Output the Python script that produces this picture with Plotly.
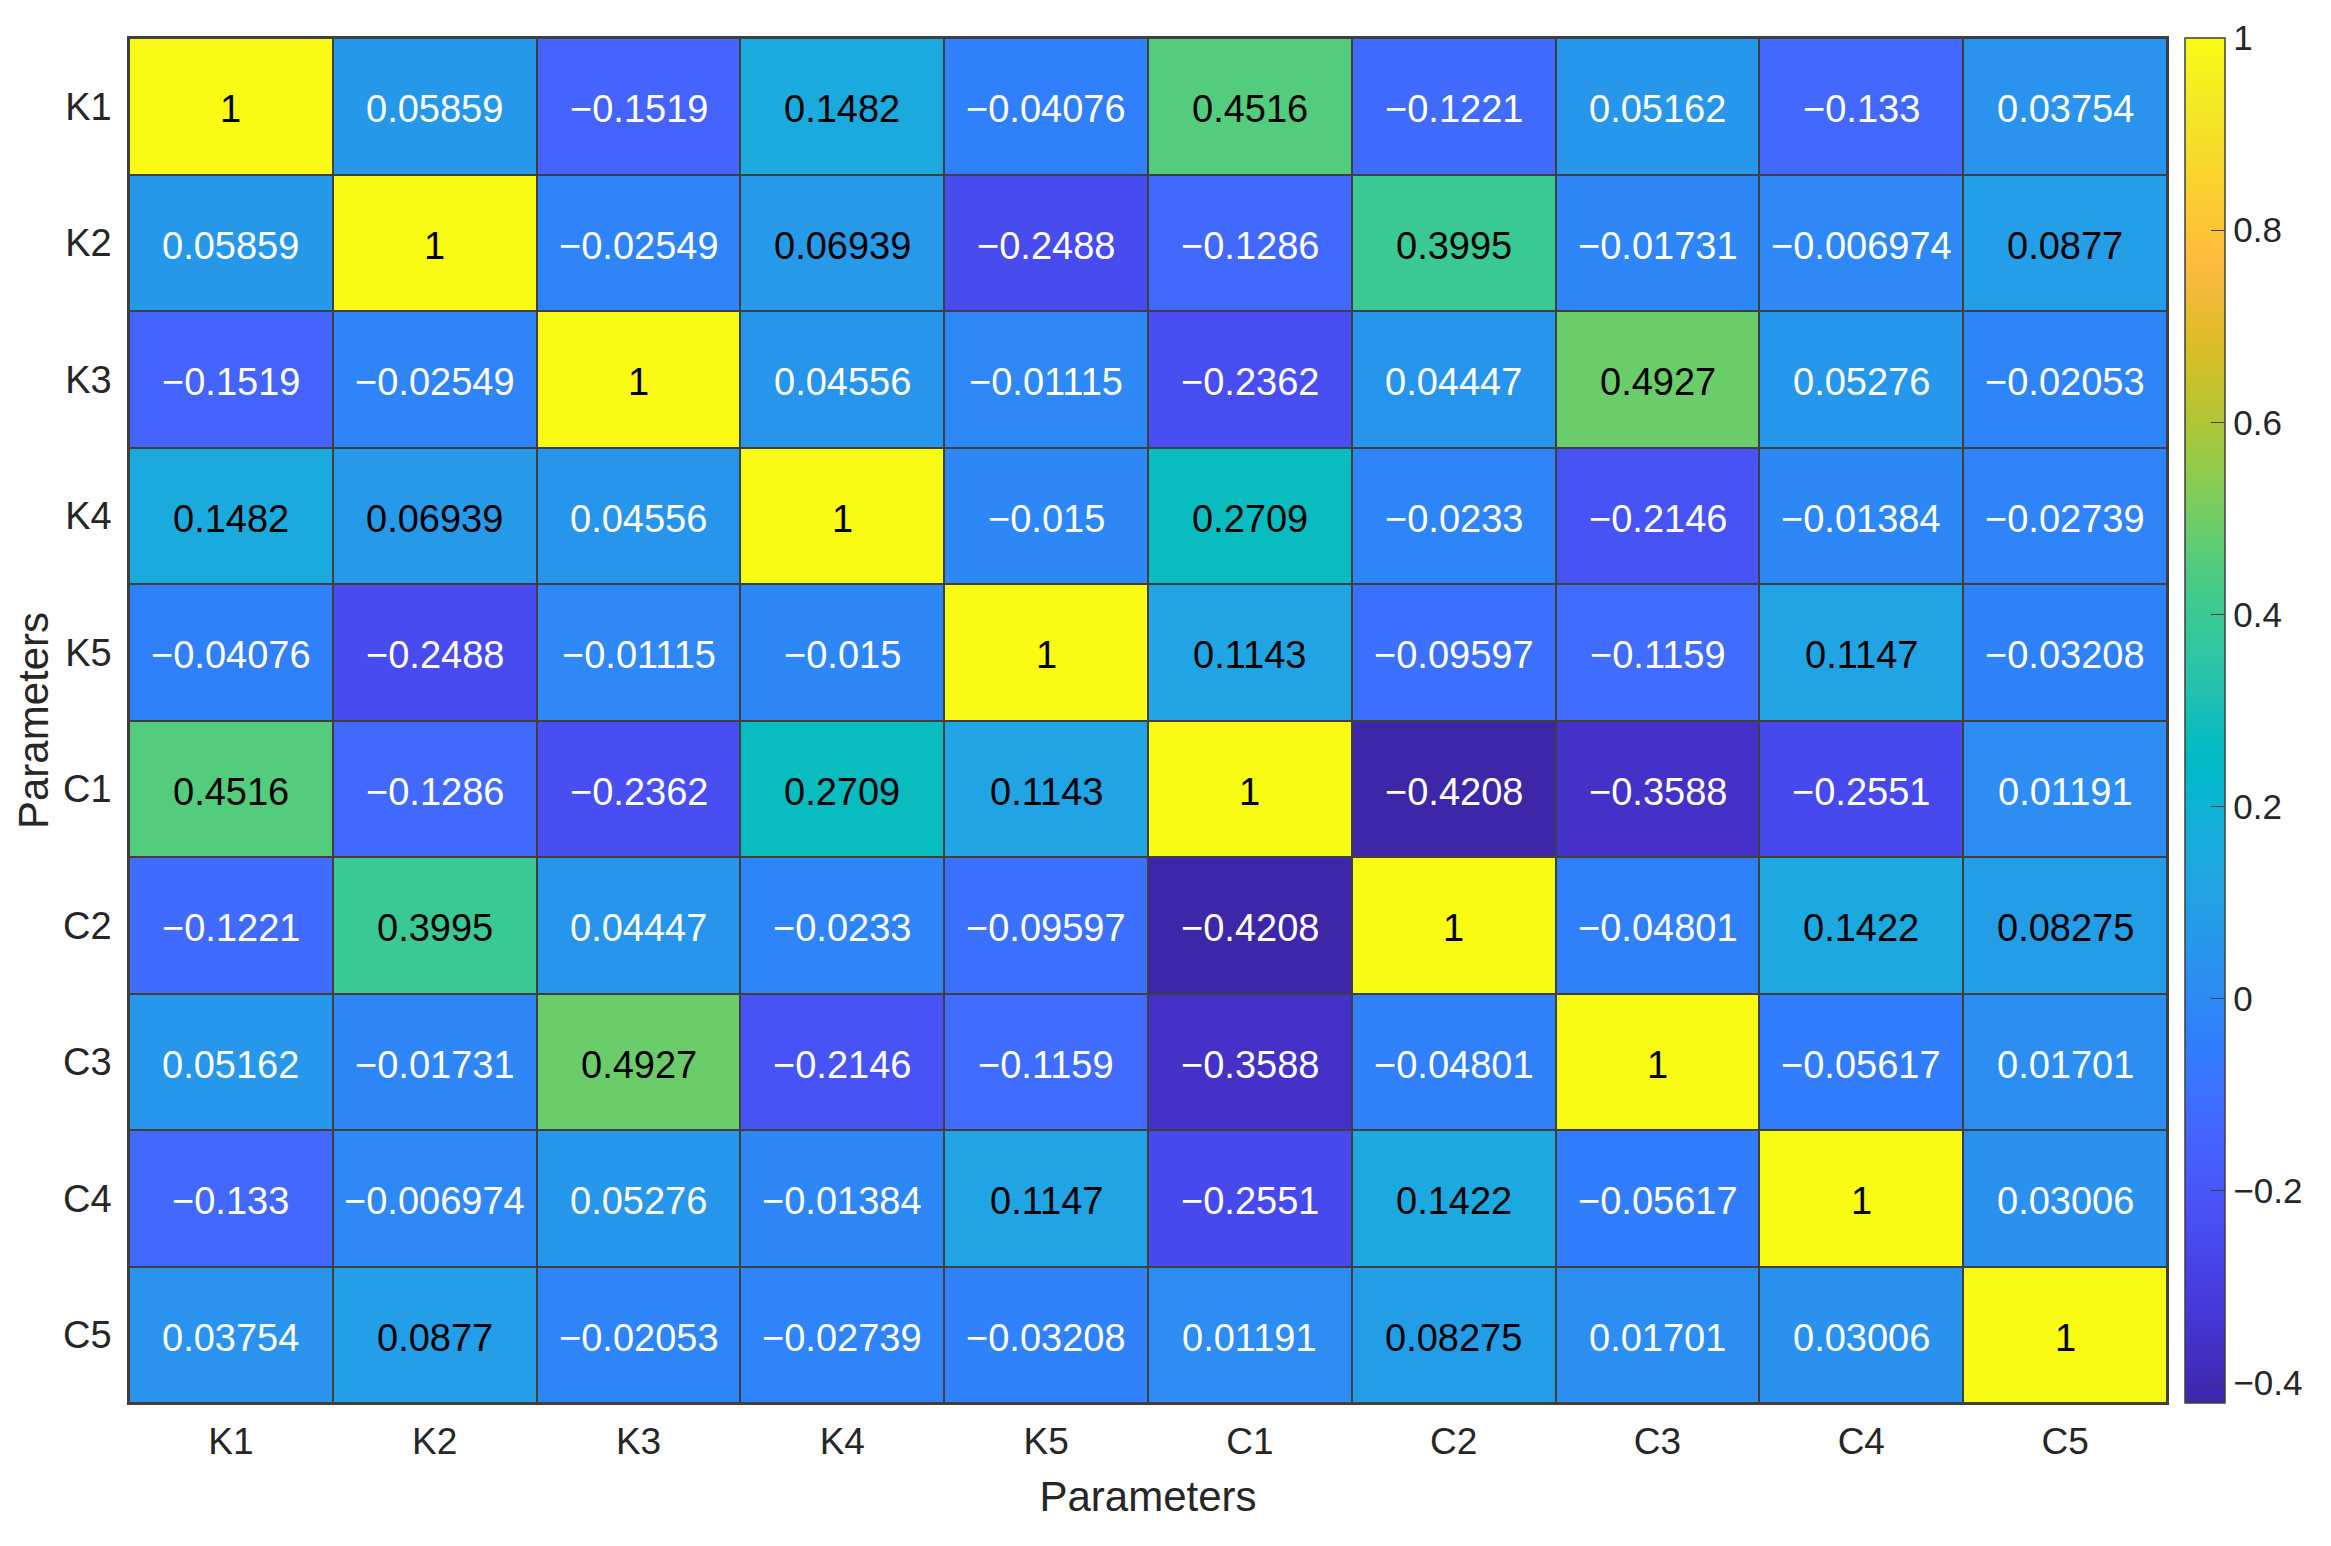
import plotly.graph_objects as go

params = ["K1", "K2", "K3", "K4", "K5", "C1", "C2", "C3", "C4", "C5"]

row_K1 = [1, 0.05859, -0.1519, 0.1482, -0.04076, 0.4516, -0.1221, 0.05162, -0.133, 0.03754]
row_K2 = [0.05859, 1, -0.02549, 0.06939, -0.2488, -0.1286, 0.3995, -0.01731, -0.006974, 0.0877]
row_K3 = [-0.1519, -0.02549, 1, 0.04556, -0.01115, -0.2362, 0.04447, 0.4927, 0.05276, -0.02053]
row_K4 = [0.1482, 0.06939, 0.04556, 1, -0.015, 0.2709, -0.0233, -0.2146, -0.01384, -0.02739]
row_K5 = [-0.04076, -0.2488, -0.01115, -0.015, 1, 0.1143, -0.09597, -0.1159, 0.1147, -0.03208]
row_C1 = [0.4516, -0.1286, -0.2362, 0.2709, 0.1143, 1, -0.4208, -0.3588, -0.2551, 0.01191]
row_C2 = [-0.1221, 0.3995, 0.04447, -0.0233, -0.09597, -0.4208, 1, -0.04801, 0.1422, 0.08275]
row_C3 = [0.05162, -0.01731, 0.4927, -0.2146, -0.1159, -0.3588, -0.04801, 1, -0.05617, 0.01701]
row_C4 = [-0.133, -0.006974, 0.05276, -0.01384, 0.1147, -0.2551, 0.1422, -0.05617, 1, 0.03006]
row_C5 = [0.03754, 0.0877, -0.02053, -0.02739, -0.03208, 0.01191, 0.08275, 0.01701, 0.03006, 1]

z = [row_K1, row_K2, row_K3, row_K4, row_K5, row_C1, row_C2, row_C3, row_C4, row_C5]

cbar_ticks = [-0.4, -0.2, 0, 0.2, 0.4, 0.6, 0.8, 1]
cbar_ticktext = ["\u22120.4", "\u22120.2", "0", "0.2", "0.4", "0.6", "0.8", "1"]

# MATLAB parula (64)
parula = [
    (0.2422, 0.1504, 0.6603), (0.2504, 0.1650, 0.7076), (0.2578, 0.1818, 0.7511), (0.2647, 0.1978, 0.7952),
    (0.2706, 0.2147, 0.8364), (0.2751, 0.2342, 0.8710), (0.2783, 0.2559, 0.8991), (0.2803, 0.2782, 0.9221),
    (0.2813, 0.3006, 0.9414), (0.2810, 0.3228, 0.9579), (0.2795, 0.3447, 0.9717), (0.2760, 0.3667, 0.9829),
    (0.2699, 0.3892, 0.9906), (0.2602, 0.4123, 0.9952), (0.2440, 0.4358, 0.9988), (0.2206, 0.4603, 0.9973),
    (0.1963, 0.4847, 0.9892), (0.1834, 0.5074, 0.9798), (0.1786, 0.5289, 0.9682), (0.1764, 0.5499, 0.9520),
    (0.1687, 0.5703, 0.9359), (0.1540, 0.5902, 0.9218), (0.1460, 0.6091, 0.9079), (0.1380, 0.6276, 0.8973),
    (0.1248, 0.6459, 0.8883), (0.1113, 0.6635, 0.8763), (0.0952, 0.6798, 0.8598), (0.0689, 0.6948, 0.8394),
    (0.0297, 0.7082, 0.8163), (0.0036, 0.7203, 0.7917), (0.0067, 0.7312, 0.7660), (0.0433, 0.7411, 0.7394),
    (0.0964, 0.7500, 0.7120), (0.1408, 0.7584, 0.6842), (0.1717, 0.7670, 0.6554), (0.1938, 0.7758, 0.6251),
    (0.2161, 0.7843, 0.5923), (0.2470, 0.7918, 0.5567), (0.2906, 0.7973, 0.5188), (0.3406, 0.8008, 0.4789),
    (0.3909, 0.8029, 0.4354), (0.4456, 0.8024, 0.3909), (0.5044, 0.7993, 0.3480), (0.5616, 0.7942, 0.3045),
    (0.6174, 0.7876, 0.2612), (0.6720, 0.7793, 0.2227), (0.7242, 0.7698, 0.1910), (0.7738, 0.7598, 0.1646),
    (0.8203, 0.7498, 0.1535), (0.8634, 0.7406, 0.1596), (0.9035, 0.7330, 0.1774), (0.9393, 0.7288, 0.2100),
    (0.9728, 0.7298, 0.2394), (0.9956, 0.7434, 0.2371), (0.9970, 0.7659, 0.2199), (0.9952, 0.7893, 0.2028),
    (0.9892, 0.8136, 0.1885), (0.9786, 0.8386, 0.1766), (0.9676, 0.8639, 0.1643), (0.9610, 0.8890, 0.1537),
    (0.9597, 0.9135, 0.1423), (0.9628, 0.9373, 0.1265), (0.9691, 0.9606, 0.1064), (0.9769, 0.9839, 0.0805),
]
n = len(parula)
colorscale = [[i / (n - 1), "rgb(%d,%d,%d)" % tuple(round(c * 255) for c in col)] for i, col in enumerate(parula)]

flat = [v for r in z for v in r]
zmin, zmax = min(flat), max(flat)


def color_at(v):
    t = (v - zmin) / (zmax - zmin) * (n - 1)
    i = min(int(t), n - 2)
    f = t - i
    return tuple(parula[i][k] * (1 - f) + parula[i + 1][k] * f for k in range(3))


def fmt(v):
    s = "%.4g" % v
    return s.replace("-", "\u2212")


font_family = "Liberation Sans, Arial, Helvetica, sans-serif"
grid_col = "#3f3f3f"
text_col = "#262626"

annotations = []
for ri, rname in enumerate(params):
    for ci, cname in enumerate(params):
        v = z[ri][ci]
        r, g, b = color_at(v)
        lum = 0.299 * r + 0.587 * g + 0.114 * b
        annotations.append(dict(
            x=cname, y=rname, xref="x", yref="y", text=fmt(v), showarrow=False,
            yshift=-3,
            font=dict(family=font_family, size=38, color="black" if lum > 0.5 else "white"),
        ))

fig = go.Figure()
fig.add_trace(go.Heatmap(
    z=z, x=params, y=params,
    colorscale=colorscale, zmin=zmin, zmax=zmax,
    xgap=2, ygap=2,
    colorbar=dict(
        x=1.0088, xanchor="left", xref="paper", xpad=0,
        y=0.5, yanchor="middle", ypad=0,
        len=1, lenmode="fraction",
        thickness=40, thicknessmode="pixels",
        outlinecolor=grid_col, outlinewidth=1.5,
        tickvals=cbar_ticks, ticktext=cbar_ticktext,
        ticks="inside", ticklen=14, tickcolor=grid_col, tickwidth=1,
        tickfont=dict(family=font_family, size=35, color=text_col),
    ),
    hoverinfo="skip",
))

fig.update_layout(
    width=2331, height=1546,
    margin=dict(l=129, r=164, t=38, b=143),
    paper_bgcolor="white", plot_bgcolor=grid_col,
    font=dict(family=font_family, color=text_col),
    showlegend=False,
    annotations=annotations,
    xaxis=dict(
        type="category", categoryorder="array", categoryarray=params,
        showgrid=False, zeroline=False, ticks="", ticklen=0, ticklabelstandoff=5,
        showline=True, linecolor=grid_col, linewidth=1.5, mirror=True,
        tickfont=dict(size=37, color=text_col),
        title=dict(text="Parameters", font=dict(size=42, color=text_col), standoff=20),
    ),
    yaxis=dict(
        type="category", categoryorder="array", categoryarray=params,
        autorange="reversed",
        showgrid=False, zeroline=False, ticks="", ticklen=0, ticklabelstandoff=8,
        showline=True, linecolor=grid_col, linewidth=1.5, mirror=True,
        tickfont=dict(size=38, color=text_col),
        title=dict(text="Parameters", font=dict(size=42, color=text_col), standoff=1),
    ),
)

fig.write_html("out.html", config={"displayModeBar": False},
               post_script="document.body.style.margin='0';")
